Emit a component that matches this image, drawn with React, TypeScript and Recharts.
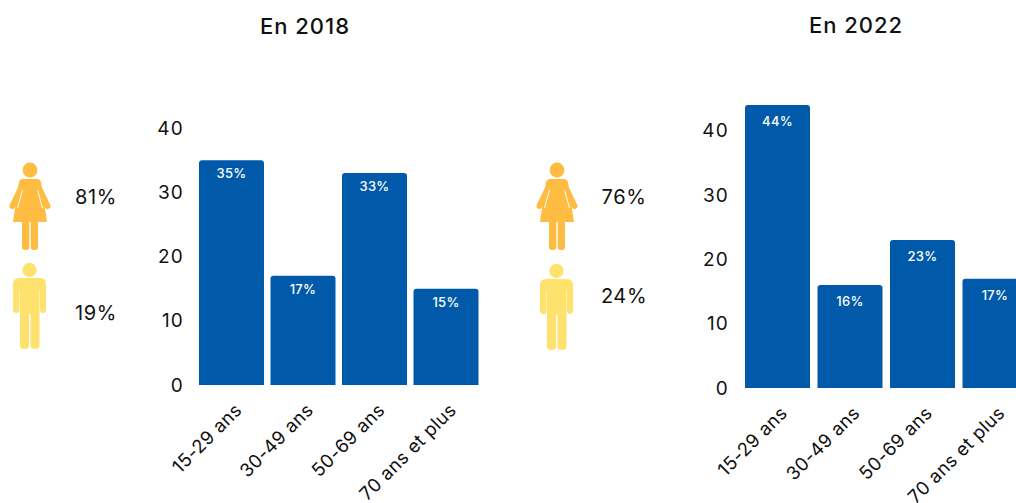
import React from "react";
import { BarChart, Bar, XAxis, YAxis, LabelList } from "recharts";

const ageGroups = ["15-29 ans", "30-49 ans", "50-69 ans", "70 ans et plus"];
const values2018 = [35, 17, 33, 15];
const values2022 = [44, 16, 23, 17];
const yTicks = [0, 10, 20, 30, 40];
const womenMen2018 = ["81%", "19%"];
const womenMen2022 = ["76%", "24%"];
const titles = ["En 2018", "En 2022"];

const FONT = "Inter, 'Noto Sans', sans-serif";
const BLUE = "#005AA9";
const WOMAN = "#FFBC42";
const MAN = "#FFE26E";
const INK = "#111111";

const toRows = (vals: number[]) => ageGroups.map((age, i) => ({ age, value: vals[i] }));

function Woman({ dx, dy }: { dx: number; dy: number }) {
  return (
    <g transform={`translate(${dx},${dy})`} fill={WOMAN} stroke="none">
      <circle cx={30} cy={170} r={7.4} />
      <path d="M23,179 L37,179 Q40,179 41,182 L47,222 L13,222 L19,182 Q20,179 23,179 Z" />
      <line x1={24} y1={182} x2={12.5} y2={206} stroke={WOMAN} strokeWidth={6} strokeLinecap="round" />
      <line x1={36} y1={182} x2={47.5} y2={206} stroke={WOMAN} strokeWidth={6} strokeLinecap="round" />
      <line x1={22.5} y1={190} x2={17.5} y2={208} stroke="#fff" strokeWidth={1} />
      <line x1={37.5} y1={190} x2={42.5} y2={208} stroke="#fff" strokeWidth={1} />
      <rect x={22} y={220} width={7.3} height={30} rx={3} />
      <rect x={30.7} y={220} width={7.3} height={30} rx={3} />
    </g>
  );
}

function Man({ dx, dy }: { dx: number; dy: number }) {
  return (
    <g transform={`translate(${dx},${dy})`} fill={MAN} stroke="none">
      <circle cx={29.5} cy={270} r={7.2} />
      <path d="M19,278 L40,278 Q46,278 46,284 L46,310 Q46,313 43,313 Q40,313 40,310 L40,290 L39.5,290 L39.5,346 Q39.5,349 35,349 Q30.5,349 30.5,346 L30.5,314 L29,314 L29,346 Q29,349 24.5,349 Q20,349 20,346 L20,290 L19.5,290 L19.5,310 Q19.5,313 16.5,313 Q13,313 13,310 L13,284 Q13,278 19,278 Z" />
    </g>
  );
}

function AgeChart({ vals, width, left, top, right, axisBottom, domainMax, labelOffset }: {
  vals: number[]; width: number; left: number; top: number; right: number; axisBottom: number; domainMax: number; labelOffset: number;
}) {
  return (
    <BarChart
      width={width}
      height={503}
      data={toRows(vals)}
      margin={{ left, top, right, bottom: 0 }}
      barCategoryGap={0}
      style={{ fontFamily: FONT }}
    >
      <XAxis
        dataKey="age"
        type="category"
        height={503 - axisBottom}
        interval={0}
        axisLine={false}
        tickLine={false}
        angle={-45}
        textAnchor="end"
        tickMargin={11}
        tick={{ fill: INK, fontSize: 18.5, fontFamily: FONT, dx: 2, letterSpacing: 0.4 } as any}
      />
      <YAxis
        type="number"
        width={56}
        domain={[0, domainMax]}
        ticks={yTicks}
        axisLine={false}
        tickLine={false}
        tickMargin={6}
        tick={{ fill: INK, fontSize: 19, fontFamily: FONT, letterSpacing: 1.2 } as any}
      />
      <Bar dataKey="value" fill={BLUE} barSize={65} radius={[3, 3, 0, 0]} isAnimationActive={false}>
        <LabelList
          dataKey="value"
          position="insideTop"
          offset={labelOffset}
          formatter={(v: number) => `${v}%`}
          style={{ fill: "#FFFFFF", fontSize: 13, fontWeight: 500, fontFamily: FONT, letterSpacing: 0.3 }}
        />
      </Bar>
    </BarChart>
  );
}

const textStyle = { fontFamily: FONT, fill: INK, fontSize: 20, letterSpacing: 0.6 };
const titleStyle = { ...textStyle, fontSize: 22, fontWeight: 500, letterSpacing: 1 };

export default function App() {
  return (
    <div style={{ position: "fixed", left: 0, top: 0, width: 1016, height: 503, overflow: "hidden", background: "#fff" }}>
      <div style={{ position: "absolute", left: 0, top: 0 }}>
        <AgeChart vals={values2018} width={500} left={140} top={128} right={18} axisBottom={385} domainMax={40} labelOffset={9} />
      </div>
      <div style={{ position: "absolute", left: 519, top: 0 }}>
        <AgeChart vals={values2022} width={600} left={166} top={105} right={88} axisBottom={388} domainMax={44} labelOffset={12} />
      </div>
      <svg width={1016} height={503} style={{ position: "absolute", left: 0, top: 0, pointerEvents: "none" }}>
        <text x={305} y={34} textAnchor="middle" style={titleStyle}>{titles[0]}</text>
        <text x={856} y={33} textAnchor="middle" style={titleStyle}>{titles[1]}</text>
        <Woman dx={0} dy={0} />
        <Man dx={0} dy={0} />
        <Woman dx={527} dy={0} />
        <Man dx={527} dy={1} />
        <text x={96} y={204} textAnchor="middle" style={textStyle}>{womenMen2018[0]}</text>
        <text x={96} y={320} textAnchor="middle" style={textStyle}>{womenMen2018[1]}</text>
        <text x={624} y={204} textAnchor="middle" style={textStyle}>{womenMen2022[0]}</text>
        <text x={624} y={303} textAnchor="middle" style={textStyle}>{womenMen2022[1]}</text>
      </svg>
    </div>
  );
}
